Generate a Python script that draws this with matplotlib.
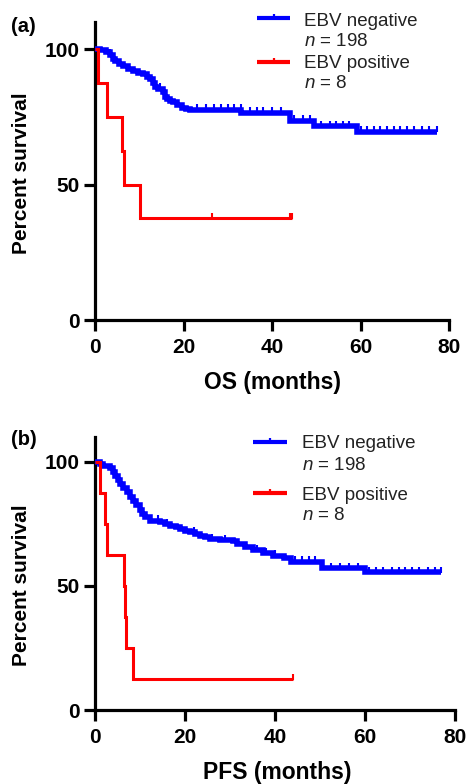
import numpy as np
import matplotlib
matplotlib.use("Agg")
import matplotlib.pyplot as plt
from matplotlib.lines import Line2D

plt.rcParams['font.family'] = ['Liberation Sans', 'DejaVu Sans']
plt.rcParams['mathtext.fontset'] = 'custom'
plt.rcParams['mathtext.it'] = 'Liberation Sans:italic'
plt.rcParams['mathtext.rm'] = 'Liberation Sans'

# ---------------- data ----------------
# Panel (a): overall survival
os_neg_t = [0, 1.1, 2.5, 3.4, 4.0, 4.5, 5.5, 6.4, 7.5, 8.6, 9.8, 10.9, 11.8, 12.4, 13.0,
            13.5, 14.2, 15.3, 15.8, 16.3, 17.0, 17.6, 18.6, 19.6, 20.5, 21.4, 33.1, 44.0,
            49.5, 59.1, 77.4]
os_neg_s = [100, 99.5, 99, 98, 96.5, 95.6, 94.5, 93.7, 92.8, 91.9, 91.2, 90.7, 89.8, 89, 87.5,
            86, 85.3, 84, 82.5, 81.6, 81, 80.3, 79.3, 78.4, 78, 77.6, 76.5, 73.5, 71.5, 69.5,
            69.5]
os_neg_cens = [3.4, 14.8, 23, 25, 27, 28.5, 30, 31.5, 33, 35, 36.5, 38, 40, 42, 45, 47, 48.5,
               51, 53, 54.5, 56, 57.5, 60, 61.5, 63, 64.5, 66, 67.5, 69, 70.5, 72, 74, 75.5, 77.4]

os_pos_t = [0, 0.75, 2.6, 6.0, 6.6, 10.2, 44.6]
os_pos_s = [100, 87.5, 75, 62.5, 50, 37.5, 37.5]
os_pos_cens = [26.4, 44.0, 44.6]

# Panel (b): progression-free survival
pfs_neg_t = [0, 1.0, 1.85, 3.3, 4.0, 4.4, 5.0, 5.6, 6.3, 7.0, 7.7, 8.5, 9.2, 10.0, 10.5, 11.1,
             12.2, 14.4, 15.5, 16.7, 18.0, 18.9, 20.0, 21.1, 22.2, 23.3, 24.5, 25.6, 27.8,
             30.7, 31.5, 33.3, 35.2, 37.4, 39.6, 41.9, 43.5, 50.4, 60.0, 77.0]
pfs_neg_s = [100, 99.2, 98.4, 97.7, 96, 94.4, 92.8, 91.2, 89.5, 87.7, 86, 84.3, 82.5, 80.7, 79,
             77.6, 76.3, 75.9, 75, 74.3, 73.6, 73, 72.3, 71.6, 71, 70.3, 69.6, 68.9, 68.3,
             68.1, 66.9, 65.6, 64.3, 63.3, 62.2, 61.3, 59.8, 57.2, 55.6, 55.6]
pfs_neg_cens = [14, 16, 22, 26, 29, 36, 38, 40, 44.5, 46, 47.5, 49, 52.5, 54.5, 56.5, 58.5,
                61, 62.5, 64, 66, 67.5, 69, 70.5, 72, 74, 75.5, 77.0]

pfs_pos_t = [0, 1.1, 2.2, 2.7, 6.5, 6.6, 6.9, 8.5, 44.0]
pfs_pos_s = [100, 87.5, 75, 62.5, 50, 37.5, 25, 12.5, 12.5]
pfs_pos_cens = [44.0]

labels = ["EBV negative", "EBV positive"]
n_labels = [r"$n$ = 198", r"$n$ = 8"]
xticks = [0, 20, 40, 60, 80]
yticks = [0, 50, 100]

BLUE = '#0000ff'
RED = '#ff0000'

W, H = 468, 784
fig = plt.figure(figsize=(W / 100, H / 100), dpi=100)


def fx(px):
    return px / W


def fy(py):
    return 1 - py / H


def step_val(t, s, x):
    t = np.asarray(t); s = np.asarray(s)
    i = np.searchsorted(t, x, side='right') - 1
    return s[np.clip(i, 0, len(s) - 1)]


def draw_panel(ax, curves):
    for (t, s, c, col, lw, ms) in curves:
        ax.plot(t, s, drawstyle='steps-post', color=col, lw=lw, solid_capstyle='butt',
                solid_joinstyle='miter', clip_on=False, zorder=3)
        ax.plot(c, step_val(t, s, c) + 0.9, ls='none', marker='|', ms=ms, mew=1.5,
                color=col, clip_on=False, zorder=3)
    ax.set_xlim(0, 80)
    ax.set_ylim(0, 110)
    ax.set_xticks(xticks)
    ax.set_yticks(yticks)
    for sp in ['top', 'right']:
        ax.spines[sp].set_visible(False)
    for sp in ['left', 'bottom']:
        ax.spines[sp].set_linewidth(2.3)
    ax.tick_params(axis='both', direction='out', width=2.3, length=8,
                   labelsize=15)
    ax.tick_params(axis='x', pad=5)
    ax.tick_params(axis='y', pad=3)
    for lab in ax.get_xticklabels() + ax.get_yticklabels():
        lab.set_fontweight('bold')


def draw_legend(rows):
    for (x0, x1, yline, col, xt, y1, y2, lab, nlab) in rows:
        fig.add_artist(Line2D([fx(x0), fx(x1)], [fy(yline), fy(yline)], color=col, lw=3,
                              transform=fig.transFigure, solid_capstyle='butt'))
        fig.add_artist(Line2D([fx((x0 + x1) / 2)], [fy(yline - 1.5)], color=col, marker='|',
                              ms=5, mew=1.6, transform=fig.transFigure))
        fig.text(fx(xt), fy(y1), lab, fontsize=13.5, ha='left', va='center', color='#222222')
        fig.text(fx(xt), fy(y2), nlab, fontsize=13.5, ha='left', va='center', color='#222222')


# Panel (a)
axa = fig.add_axes([fx(95), fy(320), fx(449) - fx(95), fy(22) - fy(320)])
draw_panel(axa, [(os_neg_t, os_neg_s, os_neg_cens, BLUE, 4.0, 4.5),
                 (os_pos_t, os_pos_s, os_pos_cens, RED, 2.2, 5)])
fig.text(fx(22), fy(173), "Percent survival", rotation=90, fontsize=15, fontweight='bold',
         ha='center', va='center')
fig.text(fx(272), fy(382), "OS (months)", fontsize=16.5, fontweight='bold', ha='center', va='center')
fig.text(fx(11), fy(27), "(a)", fontsize=14.5, fontweight='bold', ha='left', va='center')
draw_legend([(257, 290, 18, BLUE, 304, 21, 41, labels[0], n_labels[0]),
             (257, 290, 62, RED, 304, 63, 83, labels[1], n_labels[1])])

# Panel (b)
axb = fig.add_axes([fx(95), fy(710), fx(455) - fx(95), fy(437) - fy(710)])
draw_panel(axb, [(pfs_neg_t, pfs_neg_s, pfs_neg_cens, BLUE, 4.0, 4.5),
                 (pfs_pos_t, pfs_pos_s, pfs_pos_cens, RED, 2.2, 5)])
fig.text(fx(22), fy(585), "Percent survival", rotation=90, fontsize=15, fontweight='bold',
         ha='center', va='center')
fig.text(fx(277), fy(773), "PFS (months)", fontsize=16.5, fontweight='bold', ha='center', va='center')
fig.text(fx(11), fy(440), "(b)", fontsize=14.5, fontweight='bold', ha='left', va='center')
draw_legend([(253, 287, 442, BLUE, 302, 443, 465, labels[0], n_labels[0]),
             (253, 287, 493, RED, 302, 495, 516, labels[1], n_labels[1])])

fig.savefig("out.png", dpi=100)
